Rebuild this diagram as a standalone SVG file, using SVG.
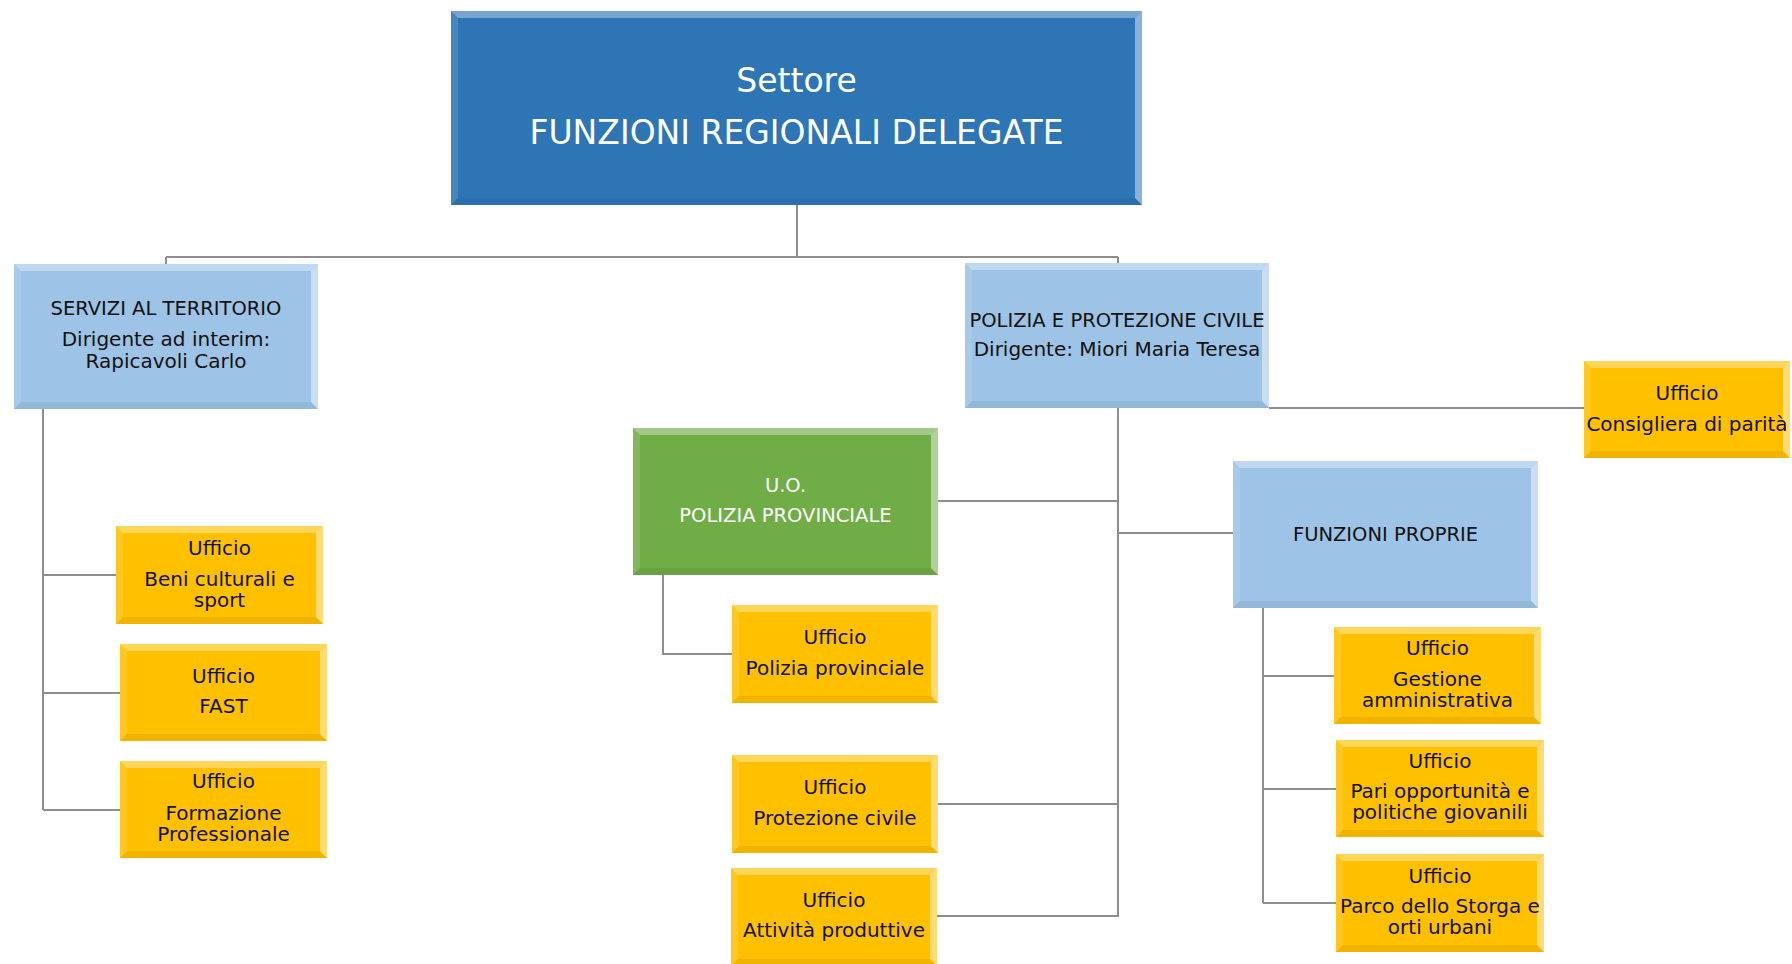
<svg xmlns="http://www.w3.org/2000/svg" width="1792" height="964" viewBox="0 0 1792 964">
<style>
text{font-family:"DejaVu Sans","Liberation Sans",sans-serif;text-anchor:middle;fill:#111}
.w{fill:#fff}
.h{font-size:19.5px}
.b{font-size:20px}
.t{font-size:33px}
.blue{fill:#2E75B6}
.lb{fill:#9DC3E6}
.yl{fill:#FFC000}
.gr{fill:#70AD47}
.bt{fill:#fff;opacity:.35}
.bl{fill:#fff;opacity:.12}
.br{fill:#fff;opacity:.45}
.bb{fill:#000;opacity:.06}
.edge{fill:none;stroke:#fff;stroke-opacity:.5;stroke-width:1}
.c path{fill:none;stroke:#8E8E8E;stroke-width:2}
</style>
<rect width="1792" height="964" fill="#fff"/>
<g class="c" id="connectors">
<path d="M797,205 V257 M166,257 H1118 M166,257 V264 M1118,257 V263"/>
<path d="M43,409 V810 M43,575 H116 M43,693 H120 M43,810 H120"/>
<path d="M1118,408 V917 M938,501 H1118 M1118,533 H1233 M938,804 H1118 M937,916 H1118"/>
<path d="M1269,408 H1584"/>
<path d="M663,575 V654 H732"/>
<path d="M1263,608 V903 M1263,676 H1334 M1263,789 H1336 M1263,903 H1336"/>
</g>
<g id="n-settore">
<rect class="blue" x="451" y="11" width="691" height="194"/>
<polygon class="bt" points="451,11 1142,11 1135,18 458,18"/>
<polygon class="bl" points="451,11 458,18 458,198 451,205"/>
<polygon class="br" points="1142,11 1142,205 1135,198 1135,18"/>
<polygon class="bb" points="451,205 458,198 1135,198 1142,205"/>
<text class="t w" x="796.5" y="92">Settore</text>
<text class="t w" x="796.5" y="144">FUNZIONI REGIONALI DELEGATE</text>
</g>
<g id="n-servizi">
<rect class="lb" x="14" y="264" width="304" height="145"/>
<polygon class="bt" points="14,264 318,264 311,271 21,271"/>
<polygon class="bl" points="14,264 21,271 21,402 14,409"/>
<polygon class="br" points="318,264 318,409 311,402 311,271"/>
<polygon class="bb" points="14,409 21,402 311,402 318,409"/>
<text class="h" x="166" y="315">SERVIZI AL TERRITORIO</text>
<text class="b" x="166" y="346">Dirigente ad interim:</text>
<text class="b" x="166" y="368">Rapicavoli Carlo</text>
</g>
<g id="n-polizia">
<rect class="lb" x="965" y="263" width="304" height="145"/>
<polygon class="bt" points="965,263 1269,263 1262,270 972,270"/>
<polygon class="bl" points="965,263 972,270 972,401 965,408"/>
<polygon class="br" points="1269,263 1269,408 1262,401 1262,270"/>
<polygon class="bb" points="965,408 972,401 1262,401 1269,408"/>
<text class="h" x="1117" y="327">POLIZIA E PROTEZIONE CIVILE</text>
<text class="b" x="1117" y="356">Dirigente: Miori Maria Teresa</text>
</g>
<g id="n-consigliera">
<rect class="yl" x="1584" y="361" width="206" height="97"/>
<polygon class="bt" points="1584,361 1790,361 1783,368 1591,368"/>
<polygon class="bl" points="1584,361 1591,368 1591,451 1584,458"/>
<polygon class="br" points="1790,361 1790,458 1783,451 1783,368"/>
<polygon class="bb" points="1584,458 1591,451 1783,451 1790,458"/>
<text class="b" x="1687" y="400">Ufficio</text>
<text class="b" x="1687" y="431">Consigliera di parità</text>
</g>
<g id="n-uo-polizia">
<rect class="gr" x="633" y="428" width="305" height="147"/>
<polygon class="bt" points="633,428 938,428 931,435 640,435"/>
<polygon class="bl" points="633,428 640,435 640,568 633,575"/>
<polygon class="br" points="938,428 938,575 931,568 931,435"/>
<polygon class="bb" points="633,575 640,568 931,568 938,575"/>
<text class="h w" x="785.5" y="492">U.O.</text>
<text class="h w" x="785.5" y="522">POLIZIA PROVINCIALE</text>
</g>
<g id="n-polizia-prov">
<rect class="yl" x="732" y="605" width="206" height="98"/>
<polygon class="bt" points="732,605 938,605 931,612 739,612"/>
<polygon class="bl" points="732,605 739,612 739,696 732,703"/>
<polygon class="br" points="938,605 938,703 931,696 931,612"/>
<polygon class="bb" points="732,703 739,696 931,696 938,703"/>
<text class="b" x="835" y="644">Ufficio</text>
<text class="b" x="835" y="675">Polizia provinciale</text>
</g>
<g id="n-protezione">
<rect class="yl" x="732" y="755" width="206" height="98"/>
<polygon class="bt" points="732,755 938,755 931,762 739,762"/>
<polygon class="bl" points="732,755 739,762 739,846 732,853"/>
<polygon class="br" points="938,755 938,853 931,846 931,762"/>
<polygon class="bb" points="732,853 739,846 931,846 938,853"/>
<text class="b" x="835" y="794">Ufficio</text>
<text class="b" x="835" y="825">Protezione civile</text>
</g>
<g id="n-attivita">
<rect class="yl" x="731" y="868" width="206" height="98"/>
<polygon class="bt" points="731,868 937,868 930,875 738,875"/>
<polygon class="bl" points="731,868 738,875 738,959 731,966"/>
<polygon class="br" points="937,868 937,966 930,959 930,875"/>
<polygon class="bb" points="731,966 738,959 930,959 937,966"/>
<text class="b" x="834" y="907">Ufficio</text>
<text class="b" x="834" y="937">Attività produttive</text>
</g>
<g id="n-funzioni-proprie">
<rect class="lb" x="1233" y="461" width="305" height="147"/>
<polygon class="bt" points="1233,461 1538,461 1531,468 1240,468"/>
<polygon class="bl" points="1233,461 1240,468 1240,601 1233,608"/>
<polygon class="br" points="1538,461 1538,608 1531,601 1531,468"/>
<polygon class="bb" points="1233,608 1240,601 1531,601 1538,608"/>
<text class="h" x="1385.5" y="541">FUNZIONI PROPRIE</text>
</g>
<g id="n-gestione">
<rect class="yl" x="1334" y="627" width="207" height="97"/>
<polygon class="bt" points="1334,627 1541,627 1534,634 1341,634"/>
<polygon class="bl" points="1334,627 1341,634 1341,717 1334,724"/>
<polygon class="br" points="1541,627 1541,724 1534,717 1534,634"/>
<polygon class="bb" points="1334,724 1341,717 1534,717 1541,724"/>
<text class="b" x="1437.5" y="655">Ufficio</text>
<text class="b" x="1437.5" y="686">Gestione</text>
<text class="b" x="1437.5" y="707">amministrativa</text>
</g>
<g id="n-pari">
<rect class="yl" x="1336" y="740" width="208" height="97"/>
<polygon class="bt" points="1336,740 1544,740 1537,747 1343,747"/>
<polygon class="bl" points="1336,740 1343,747 1343,830 1336,837"/>
<polygon class="br" points="1544,740 1544,837 1537,830 1537,747"/>
<polygon class="bb" points="1336,837 1343,830 1537,830 1544,837"/>
<text class="b" x="1440" y="768">Ufficio</text>
<text class="b" x="1440" y="798">Pari opportunità e</text>
<text class="b" x="1440" y="819">politiche giovanili</text>
</g>
<g id="n-parco">
<rect class="yl" x="1336" y="854" width="208" height="98"/>
<polygon class="bt" points="1336,854 1544,854 1537,861 1343,861"/>
<polygon class="bl" points="1336,854 1343,861 1343,945 1336,952"/>
<polygon class="br" points="1544,854 1544,952 1537,945 1537,861"/>
<polygon class="bb" points="1336,952 1343,945 1537,945 1544,952"/>
<text class="b" x="1440" y="883">Ufficio</text>
<text class="b" x="1440" y="913">Parco dello Storga e</text>
<text class="b" x="1440" y="934">orti urbani</text>
</g>
<g id="n-beni">
<rect class="yl" x="116" y="526" width="207" height="98"/>
<polygon class="bt" points="116,526 323,526 316,533 123,533"/>
<polygon class="bl" points="116,526 123,533 123,617 116,624"/>
<polygon class="br" points="323,526 323,624 316,617 316,533"/>
<polygon class="bb" points="116,624 123,617 316,617 323,624"/>
<text class="b" x="219.5" y="555">Ufficio</text>
<text class="b" x="219.5" y="586">Beni culturali e</text>
<text class="b" x="219.5" y="607">sport</text>
</g>
<g id="n-fast">
<rect class="yl" x="120" y="644" width="207" height="97"/>
<polygon class="bt" points="120,644 327,644 320,651 127,651"/>
<polygon class="bl" points="120,644 127,651 127,734 120,741"/>
<polygon class="br" points="327,644 327,741 320,734 320,651"/>
<polygon class="bb" points="120,741 127,734 320,734 327,741"/>
<text class="b" x="223.5" y="683">Ufficio</text>
<text class="b" x="223.5" y="713">FAST</text>
</g>
<g id="n-formazione">
<rect class="yl" x="120" y="761" width="207" height="97"/>
<polygon class="bt" points="120,761 327,761 320,768 127,768"/>
<polygon class="bl" points="120,761 127,768 127,851 120,858"/>
<polygon class="br" points="327,761 327,858 320,851 320,768"/>
<polygon class="bb" points="120,858 127,851 320,851 327,858"/>
<text class="b" x="223.5" y="788">Ufficio</text>
<text class="b" x="223.5" y="820">Formazione</text>
<text class="b" x="223.5" y="841">Professionale</text>
</g>
</svg>
